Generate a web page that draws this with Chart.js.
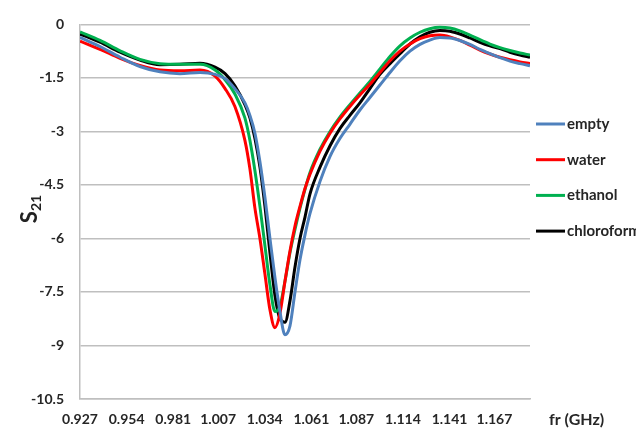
<!DOCTYPE html>
<html>
<head>
<meta charset="utf-8">
<script src="https://cdn.jsdelivr.net/npm/chart.js"></script>
<style>
  html, body { margin: 0; padding: 0; background: #fff; }
</style>
</head>
<body>
<canvas id="s21Chart" width="636" height="433"></canvas>
<script>
// frequency (GHz) and S21 readings per filling
const freq = [0.9270, 0.9386, 0.9502, 0.9617, 0.9733, 0.9849, 0.9965, 1.0052, 1.0110, 1.0167,
  1.0225, 1.0254, 1.0283, 1.0312, 1.0341, 1.0370, 1.0399, 1.0428, 1.0457, 1.0486,
  1.0515, 1.0544, 1.0573, 1.0602, 1.0660, 1.0718, 1.0775, 1.0833, 1.0891, 1.0949,
  1.1007, 1.1065, 1.1123, 1.1181, 1.1239, 1.1296, 1.1354, 1.1412, 1.1470, 1.1528,
  1.1586, 1.1644, 1.1702, 1.1760, 1.1818, 1.1876];

const empty = [-0.36, -0.62, -0.92, -1.18, -1.33, -1.38, -1.35, -1.40, -1.52, -1.80,
  -2.20, -2.55, -3.05, -3.85, -4.85, -6.00, -7.10, -8.05, -8.70, -8.45,
  -7.50, -6.60, -5.90, -5.30, -4.40, -3.70, -3.20, -2.80, -2.40, -2.05,
  -1.70, -1.35, -1.02, -0.75, -0.56, -0.44, -0.37, -0.38, -0.45, -0.56,
  -0.70, -0.82, -0.93, -1.03, -1.10, -1.16];

const water = [-0.47, -0.70, -0.95, -1.15, -1.28, -1.30, -1.28, -1.45, -1.80, -2.30,
  -3.25, -4.05, -5.15, -6.00, -7.00, -8.00, -8.50, -8.10, -7.20, -6.35,
  -5.65, -5.10, -4.60, -4.20, -3.55, -3.05, -2.65, -2.30, -1.98, -1.68,
  -1.35, -1.02, -0.75, -0.55, -0.40, -0.32, -0.30, -0.35, -0.45, -0.58,
  -0.72, -0.83, -0.92, -0.99, -1.05, -1.10];

const ethanol = [-0.21, -0.45, -0.74, -0.98, -1.10, -1.12, -1.12, -1.28, -1.55, -1.95,
  -2.62, -3.25, -4.10, -5.10, -6.20, -7.30, -8.05, -7.90, -7.20, -6.40,
  -5.75, -5.15, -4.62, -4.15, -3.50, -3.00, -2.60, -2.25, -1.92, -1.60,
  -1.25, -0.90, -0.60, -0.38, -0.22, -0.12, -0.08, -0.10, -0.18, -0.30,
  -0.43, -0.55, -0.65, -0.73, -0.80, -0.86];

const chloroform = [-0.27, -0.50, -0.78, -1.00, -1.13, -1.12, -1.09, -1.20, -1.38, -1.72,
  -2.25, -2.62, -3.20, -4.00, -5.10, -6.40, -7.60, -8.25, -8.35, -7.75,
  -6.80, -6.00, -5.40, -4.75, -4.00, -3.40, -2.92, -2.55, -2.20, -1.80,
  -1.40, -1.10, -0.82, -0.55, -0.35, -0.22, -0.17, -0.19, -0.27, -0.38,
  -0.50, -0.60, -0.68, -0.78, -0.86, -0.92];

const xTickLabels = ['0.927', '0.954', '0.981', '1.007', '1.034', '1.061', '1.087', '1.114', '1.141', '1.167'];
const yTicks = [0, -1.5, -3, -4.5, -6, -7.5, -9, -10.5];

const seriesNames = ['empty', 'water', 'ethanol', 'chloroform'];
const seriesColors = ['#4F81BD', '#FF0000', '#00B050', '#000000'];

const toPoints = arr => arr.map((v, i) => ({ x: freq[i], y: v }));

const labelFont = { family: 'Lato', size: 14, weight: 'bold' };

// legend on the right + axis titles
const extrasPlugin = {
    id: 'extras',
    afterDraw(chart) {
        const c = chart.ctx;
        c.save();
        c.font = 'bold 15px Lato';
        c.textBaseline = 'middle';
        chart.data.datasets.forEach((ds, i) => {
            const y = 124 + i * 35.7;
            c.strokeStyle = ds.borderColor;
            c.lineWidth = 3;
            c.beginPath();
            c.moveTo(536, y);
            c.lineTo(565, y);
            c.stroke();
            c.fillStyle = '#262626';
            c.fillText(ds.label, 567, y);
        });

        // x title
        c.font = 'bold 16px Lato';
        c.fillStyle = '#262626';
        c.fillText('fr (GHz)', 549, 420);

        // y title S21
        c.translate(31, 209);
        c.rotate(-Math.PI / 2);
        c.textBaseline = 'alphabetic';
        c.fillStyle = '#222';
        c.font = 'bold 22px Lato';
        const sw = c.measureText('S').width;
        c.font = 'bold 14px Lato';
        const dw = c.measureText('21').width;
        const x0 = -(sw + dw) / 2;
        c.font = 'bold 22px Lato';
        c.fillText('S', x0, 6);
        c.font = 'bold 14px Lato';
        c.fillText('21', x0 + sw, 10);
        c.restore();
    }
};

const ctx = document.getElementById('s21Chart').getContext('2d');
new Chart(ctx, {
    type: 'line',
    data: {
        datasets: [empty, water, ethanol, chloroform].map((arr, i) => ({
            label: seriesNames[i],
            data: toPoints(arr),
            borderColor: seriesColors[i],
            borderWidth: 3,
            pointRadius: 0,
            cubicInterpolationMode: 'monotone',
            fill: false
        }))
    },
    options: {
        responsive: false,
        animation: false,
        layout: { padding: { top: 19, right: 106, left: 0, bottom: 0 } },
        plugins: { legend: { display: false }, tooltip: { enabled: false } },
        scales: {
            x: {
                type: 'linear',
                min: 0.927,
                max: 1.1876,
                afterFit(scale) { scale.height = 34; },
                afterBuildTicks(scale) {
                    scale.ticks = xTickLabels.map(t => ({ value: parseFloat(t) }));
                },
                ticks: {
                    autoSkip: false,
                    maxRotation: 0,
                    padding: 12,
                    color: '#262626',
                    font: labelFont,
                    callback: (v) => xTickLabels.find(t => parseFloat(t) === v)
                },
                grid: { display: false, drawTicks: false },
                border: { color: '#BFBFBF', width: 1.5 }
            },
            y: {
                min: -10.5,
                max: 0,
                afterFit(scale) { scale.width = 80; },
                afterBuildTicks(scale) {
                    scale.ticks = yTicks.map(v => ({ value: v }));
                },
                ticks: {
                    padding: 16,
                    color: '#262626',
                    font: labelFont,
                    callback: v => String(v)
                },
                grid: { color: '#BFBFBF', lineWidth: 1.5, drawTicks: false },
                border: { color: '#BFBFBF', width: 1.5 }
            }
        }
    },
    plugins: [extrasPlugin]
});
</script>
</body>
</html>
